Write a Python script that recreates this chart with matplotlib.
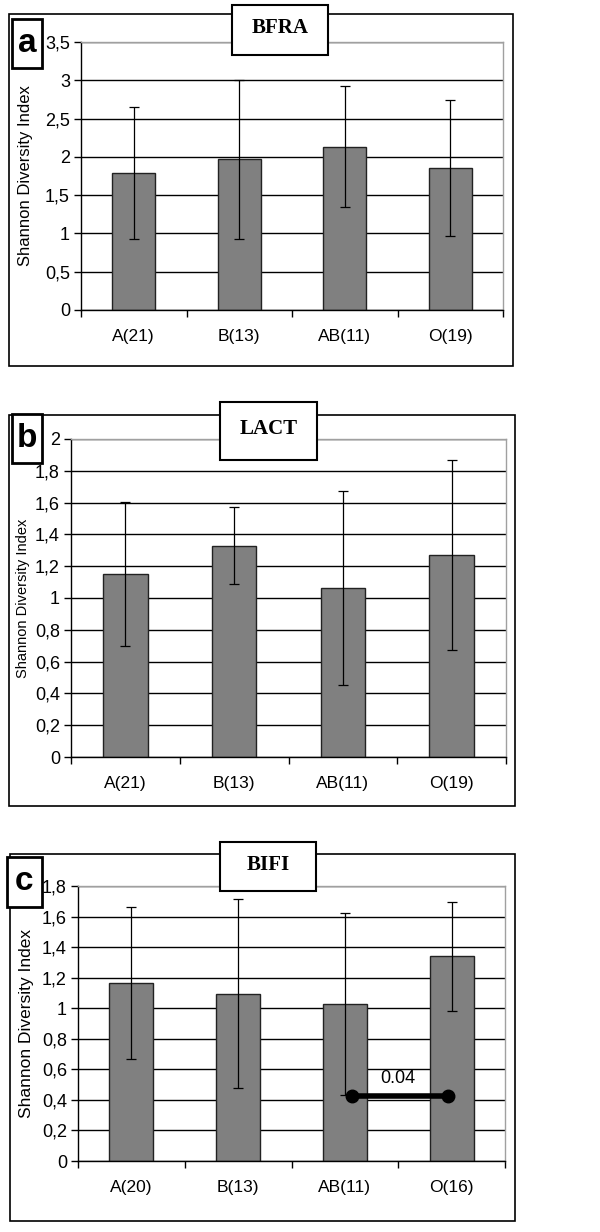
import matplotlib
matplotlib.use("Agg")
import matplotlib.pyplot as plt
from matplotlib.patches import Rectangle
from matplotlib.ticker import FuncFormatter, FixedLocator

plt.rcParams['font.family'] = ['Liberation Sans', 'DejaVu Sans']

# ---- data ----
groups_ab = ["A(21)", "B(13)", "AB(11)", "O(19)"]
groups_c = ["A(20)", "B(13)", "AB(11)", "O(16)"]
bfra_mean = [1.79, 1.97, 2.13, 1.85]
bfra_err = [0.86, 1.04, 0.79, 0.89]
lact_mean = [1.15, 1.33, 1.065, 1.27]
lact_err = [0.455, 0.245, 0.61, 0.60]
bifi_mean = [1.165, 1.095, 1.03, 1.34]
bifi_err = [0.50, 0.62, 0.595, 0.355]
panel_titles = ["BFRA", "LACT", "BIFI"]
panel_letters = ["a", "b", "c"]
ymax = [3.5, 2.0, 1.8]
ystep = [0.5, 0.2, 0.2]
sig_pair = (2, 3)
sig_y = 0.424
sig_text = "0.04"

W, H = 600, 1232
fig = plt.figure(figsize=(W / 100, H / 100), dpi=100)


def fx(x):
    return x / W


def fy(y):
    return 1 - y / H


def axes_px(x0, y0, x1, y1):
    return fig.add_axes([fx(x0), fy(y1), fx(x1) - fx(x0), fy(y0) - fy(y1)])


def rect_px(x0, y0, x1, y1, lw, fill=False):
    r = Rectangle((fx(x0), fy(y1)), fx(x1) - fx(x0), fy(y0) - fy(y1),
                  transform=fig.transFigure, fill=fill, facecolor='white',
                  edgecolor='black', linewidth=lw, zorder=5)
    fig.patches.append(r)


layout = [
    dict(frame=(9, 14, 513, 366), ax=(81, 42, 503, 310), title=(232, 5, 328, 55),
         letter=(12, 19, 42, 68), ylab_x=-0.113, ylab_fs=12),
    dict(frame=(9, 415, 515, 806), ax=(71, 439, 506, 757), title=(220, 402, 317, 460),
         letter=(12, 414, 42, 463), ylab_x=-0.095, ylab_fs=10.5),
    dict(frame=(10, 854, 515, 1221), ax=(78, 886, 505, 1161), title=(220, 842, 316, 891),
         letter=(7, 857, 42, 907), ylab_x=-0.102, ylab_fs=12.5),
]

datasets = [(groups_ab, bfra_mean, bfra_err), (groups_ab, lact_mean, lact_err),
            (groups_c, bifi_mean, bifi_err)]

for i, (lay, (groups, means, errs)) in enumerate(zip(layout, datasets)):
    rect_px(*lay['frame'], lw=1.2)
    ax = axes_px(*lay['ax'])
    x = list(range(len(groups)))
    ax.bar(x, means, width=0.41, color='#808080', edgecolor='#222222', linewidth=1.0, zorder=2)
    ax.errorbar(x, means, yerr=errs, fmt='none', ecolor='black', elinewidth=0.9,
                capsize=3.5, capthick=0.9, zorder=3)
    ax.set_xlim(-0.5, len(groups) - 0.5)
    ax.set_ylim(0, ymax[i])
    n = int(round(ymax[i] / ystep[i]))
    ticks = [k * ystep[i] for k in range(n + 1)]
    ax.set_yticks(ticks)
    ax.yaxis.set_major_formatter(FuncFormatter(lambda v, p: ('%g' % round(v, 2)).replace('.', ',')))
    ax.set_axisbelow(True)
    ax.yaxis.grid(True, color='black', linewidth=1.0)
    # x: ticks at category boundaries, labels at centers
    ax.xaxis.set_major_locator(FixedLocator([k - 0.5 for k in range(len(groups) + 1)]))
    ax.xaxis.set_minor_locator(FixedLocator(x))
    ax.set_xticklabels([])
    ax.set_xticklabels(groups, minor=True)
    ax.tick_params(axis='x', which='minor', length=0, pad=14, labelsize=12.5)
    ax.tick_params(axis='x', which='major', length=5, width=1, direction='out')
    ax.tick_params(axis='y', length=5, width=1, direction='out', labelsize=13, pad=3)
    for s in ['top', 'right']:
        ax.spines[s].set_color('#a0a0a0')
        ax.spines[s].set_linewidth(1.0)
    for s in ['left', 'bottom']:
        ax.spines[s].set_color('black')
        ax.spines[s].set_linewidth(1.0)
    ax.set_ylabel("Shannon Diversity Index", fontsize=lay['ylab_fs'])
    ax.yaxis.set_label_coords(lay['ylab_x'], 0.5)

    # title box
    tx0, ty0, tx1, ty1 = lay['title']
    rect_px(tx0, ty0, tx1, ty1, lw=1.5, fill=True)
    fig.text(fx((tx0 + tx1) / 2), fy((ty0 + ty1) / 2 - 2), panel_titles[i],
             ha='center', va='center', fontsize=15, fontweight='bold',
             family=['Liberation Serif', 'DejaVu Serif'], zorder=6)
    # letter box
    lx0, ly0, lx1, ly1 = lay['letter']
    rect_px(lx0, ly0, lx1, ly1, lw=2.0, fill=True)
    fig.text(fx((lx0 + lx1) / 2), fy((ly0 + ly1) / 2), panel_letters[i],
             ha='center', va='center', fontsize=24, fontweight='bold', zorder=6)

    if i == 2:
        a, b = sig_pair
        ax.plot([a + 0.07, b - 0.03], [sig_y, sig_y], color='black', linewidth=4,
                marker='o', markersize=9, solid_capstyle='butt', zorder=4)
        ax.text((a + b) / 2, sig_y + 0.06, sig_text, ha='center', va='bottom',
                fontsize=13, zorder=4)

fig.savefig("out.png", dpi=100)
